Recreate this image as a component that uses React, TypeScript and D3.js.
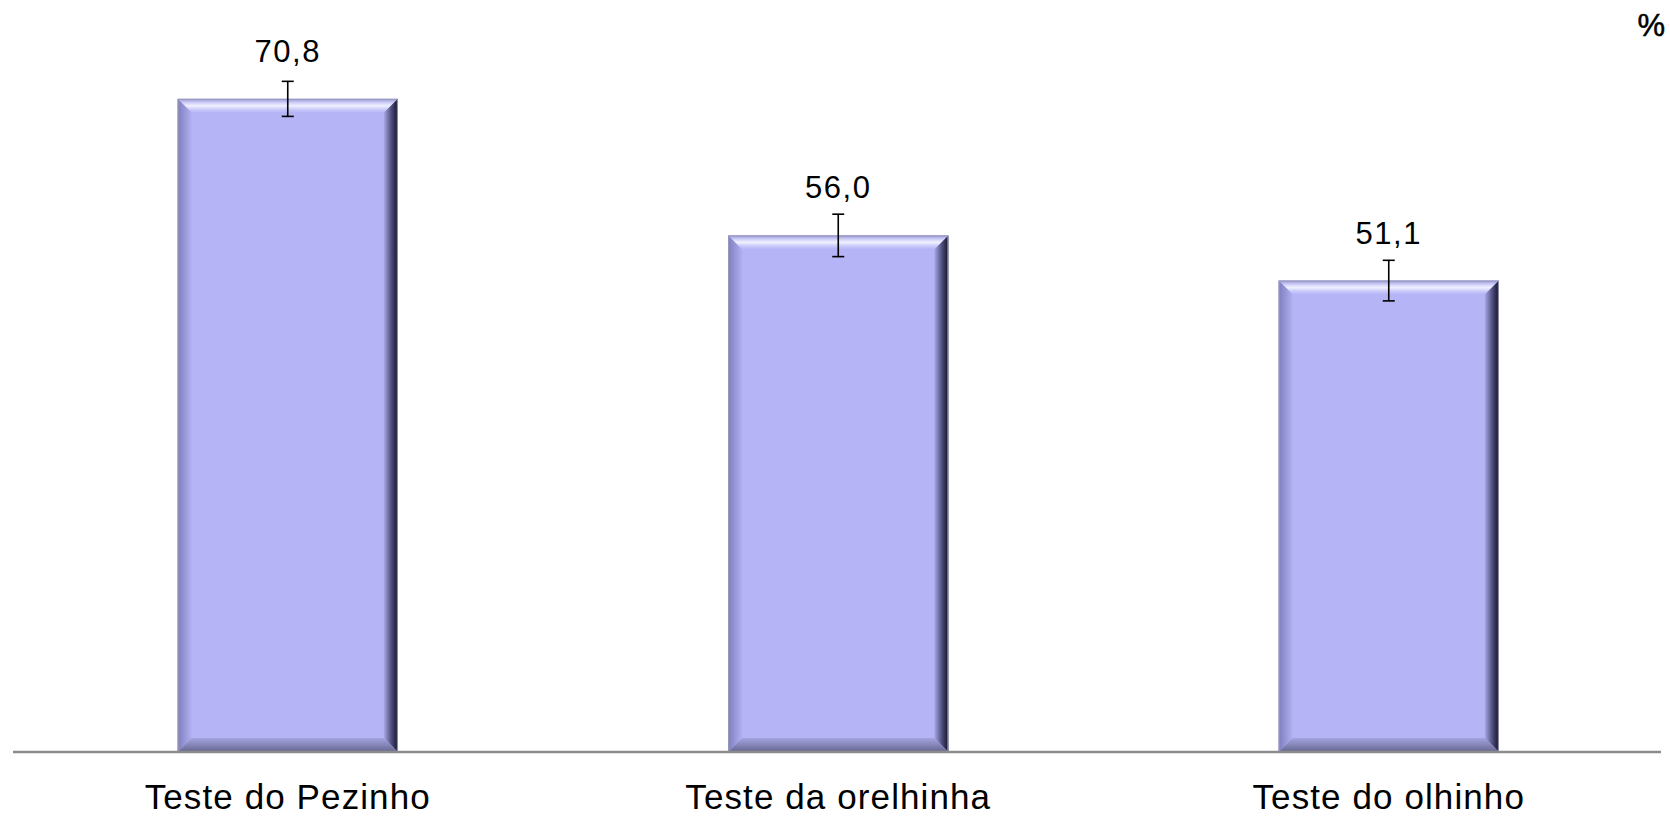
import React, { useEffect, useRef } from "react";
import * as d3 from "d3";

const categories = ["Teste do Pezinho", "Teste da orelhinha", "Teste do olhinho"];
const values = [70.8, 56.0, 51.1];
const errors = [1.9, 2.3, 2.2];
const valueLabels = ["70,8", "56,0", "51,1"];

export default function App() {
  const svgRef = useRef<SVGSVGElement | null>(null);

  useEffect(() => {
    const width = 1670;
    const height = 817;
    const svg = d3.select(svgRef.current);
    svg.selectAll("*").remove();
    svg.attr("width", width).attr("height", height);

    const baseline = 752;

    //scales
    const x = d3
      .scaleBand<string>()
      .domain(categories)
      .range([12.5, 1664])
      .paddingInner(0.6)
      .paddingOuter(0.3);

    const y = d3.scaleLinear().domain([0, 80]).range([baseline, 14]);

    //gradients for the bevelled bars
    const defs = svg.append("defs");
    const grad = (id: string, x2: number, y2: number, stops: [number, string][]) => {
      const g = defs
        .append("linearGradient")
        .attr("id", id)
        .attr("x1", 0)
        .attr("y1", 0)
        .attr("x2", x2)
        .attr("y2", y2);
      stops.forEach(([o, c]) => g.append("stop").attr("offset", o).attr("stop-color", c));
    };
    grad("gTop", 0, 1, [
      [0, "#9898d8"],
      [0.3, "#d4d4fb"],
      [0.5, "#f0f0ff"],
      [0.75, "#cacafa"],
      [1, "#b4b4f6"],
    ]);
    grad("gLeft", 1, 0, [
      [0, "#7e7ebe"],
      [1, "#b0b0f2"],
    ]);
    grad("gRight", 1, 0, [
      [0, "#a8a8e6"],
      [0.55, "#4c4c7a"],
      [1, "#121226"],
    ]);
    grad("gBottom", 0, 1, [
      [0, "#a4a4e0"],
      [1, "#66668f"],
    ]);

    const b = 14; //bevel size
    const bars = svg.append("g");
    categories.forEach((c, i) => {
      const x0 = x(c)!;
      const w = x.bandwidth();
      const y0 = y(values[i]);
      const y1 = y(0);
      const g = bars.append("g");
      const poly = (pts: number[][], fill: string) =>
        g.append("polygon").attr("points", pts.map((p) => p.join(",")).join(" ")).attr("fill", fill);

      g.append("rect")
        .attr("x", x0)
        .attr("y", y0)
        .attr("width", w)
        .attr("height", y1 - y0)
        .attr("fill", "#b4b4f6");
      poly([[x0, y0], [x0 + w, y0], [x0 + w - b, y0 + b], [x0 + b, y0 + b]], "url(#gTop)");
      poly([[x0, y0], [x0 + b, y0 + b], [x0 + b, y1 - b], [x0, y1]], "url(#gLeft)");
      poly([[x0 + w, y0], [x0 + w, y1], [x0 + w - b, y1 - b], [x0 + w - b, y0 + b]], "url(#gRight)");
      poly([[x0, y1], [x0 + b, y1 - b], [x0 + w - b, y1 - b], [x0 + w, y1]], "url(#gBottom)");
      g.append("rect")
        .attr("x", x0 + 0.5)
        .attr("y", y0 + 0.5)
        .attr("width", w - 1)
        .attr("height", y1 - y0 - 1)
        .attr("fill", "none")
        .attr("stroke", "#9a9ab8")
        .attr("stroke-width", 1);
    });

    //axis line
    svg
      .append("line")
      .attr("x1", 13)
      .attr("x2", 1661)
      .attr("y1", baseline)
      .attr("y2", baseline)
      .attr("stroke", "#8c8c8c")
      .attr("stroke-width", 2.5);

    //error bars
    const err = svg.append("g").attr("stroke", "#000").attr("stroke-width", 1.6);
    categories.forEach((c, i) => {
      const cx = x(c)! + x.bandwidth() / 2;
      const top = y(values[i] + errors[i]);
      const bot = y(values[i] - errors[i]);
      err.append("line").attr("x1", cx).attr("x2", cx).attr("y1", top).attr("y2", bot);
      err.append("line").attr("x1", cx - 6).attr("x2", cx + 6).attr("y1", top).attr("y2", top);
      err.append("line").attr("x1", cx - 6).attr("x2", cx + 6).attr("y1", bot).attr("y2", bot);
    });

    //value labels
    svg
      .append("g")
      .selectAll("text")
      .data(categories)
      .join("text")
      .attr("x", (c) => x(c)! + x.bandwidth() / 2)
      .attr("y", (c, i) => y(values[i]) - 37)
      .attr("text-anchor", "middle")
      .attr("font-family", "Liberation Sans, Arial, sans-serif")
      .attr("font-size", 31)
      .attr("letter-spacing", 1.5)
      .attr("fill", "#000")
      .text((c, i) => valueLabels[i]);

    //category labels
    svg
      .append("g")
      .selectAll("text")
      .data(categories)
      .join("text")
      .attr("x", (c) => x(c)! + x.bandwidth() / 2)
      .attr("y", 809)
      .attr("text-anchor", "middle")
      .attr("font-family", "Liberation Sans, Arial, sans-serif")
      .attr("font-size", 35)
      .attr("letter-spacing", 1.1)
      .attr("fill", "#000")
      .text((c) => c);

    //unit
    svg
      .append("text")
      .attr("x", 1665)
      .attr("y", 36)
      .attr("text-anchor", "end")
      .attr("font-family", "Liberation Sans, Arial, sans-serif")
      .attr("font-size", 31)
      .attr("fill", "#000")
      .attr("stroke", "#000")
      .attr("stroke-width", 0.5)
      .text("%");
  }, []);

  return (
    <div style={{ position: "absolute", left: 0, top: 0 }}>
      <svg ref={svgRef} style={{ display: "block" }}></svg>
    </div>
  );
}
